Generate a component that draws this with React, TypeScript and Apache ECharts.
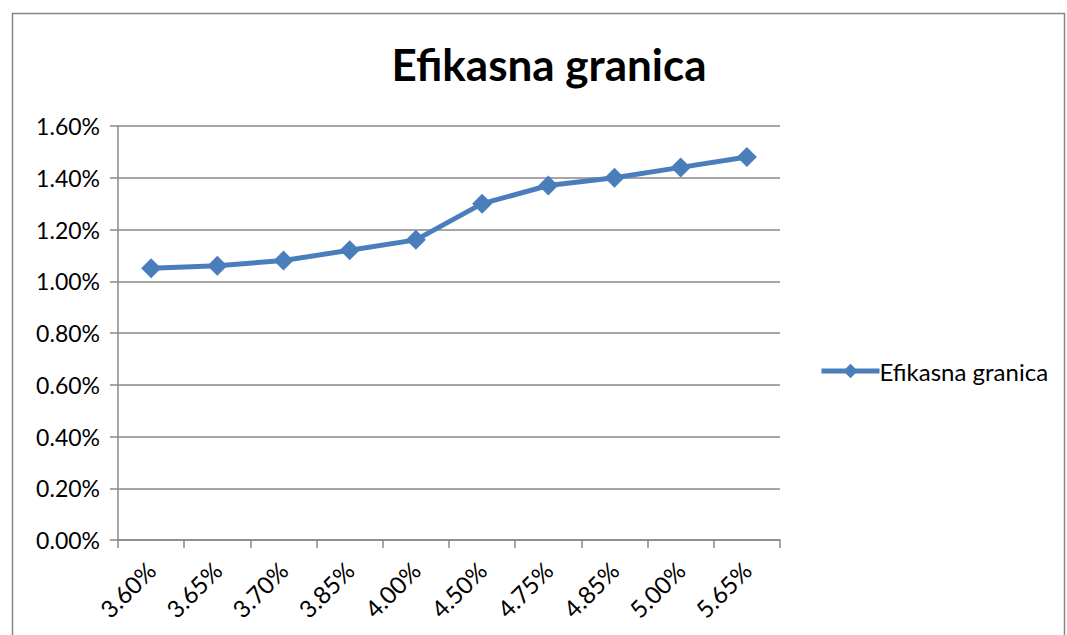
import React, { useEffect, useRef } from "react";
import * as echarts from "echarts";

const categories = ["3.60%", "3.65%", "3.70%", "3.85%", "4.00%", "4.50%", "4.75%", "4.85%", "5.00%", "5.65%"];
const values = [1.05, 1.06, 1.08, 1.12, 1.16, 1.30, 1.37, 1.40, 1.44, 1.48];
const seriesName = "Efikasna granica";
const titleText = "Efikasna granica";

export default function App() {
  const ref = useRef<HTMLDivElement>(null);
  useEffect(() => {
    if (!ref.current) return;
    const chart = echarts.init(ref.current, undefined, { renderer: "svg" });
    const gray = "#888888";
    chart.setOption({
      animation: false,
      backgroundColor: "#ffffff",
      textStyle: { fontFamily: "Lato" },
      title: {
        text: titleText,
        left: 544,
        top: 37,
        textAlign: "center",
        textStyle: { fontFamily: "Lato", fontWeight: "bold", fontSize: 44, color: "#000" },
      },
      graphic: [
        {
          type: "rect",
          shape: { x: 12.5, y: 13.5, width: 1052, height: 640 },
          style: { fill: "none", stroke: "#868686", lineWidth: 1.5 },
          silent: true,
        },
      ],
      legend: {
        left: 819,
        top: 359,
        padding: 0,
        itemWidth: 58,
        itemHeight: 18,
        itemGap: 2,
        lineStyle: { width: 5 },
        textStyle: { fontFamily: "Lato", fontSize: 24, color: "#000", padding: [0, 0, 0, -5] },
        data: [seriesName],
      },
      grid: { left: 118, right: 287, top: 126, bottom: 95 },
      xAxis: {
        type: "category",
        data: categories,
        boundaryGap: true,
        axisLine: { show: true, lineStyle: { color: gray, width: 1.5 } },
        axisTick: { show: true, length: 8, alignWithLabel: false, lineStyle: { color: gray, width: 1.5 } },
        axisLabel: { rotate: 45, fontSize: 24, color: "#000", fontFamily: "Lato", margin: 26 },
        splitLine: { show: false },
      },
      yAxis: {
        type: "value",
        min: 0,
        max: 1.6,
        interval: 0.2,
        axisLine: { show: true, lineStyle: { color: gray, width: 1.5 } },
        axisTick: { show: true, length: 8, lineStyle: { color: gray, width: 1.5 } },
        axisLabel: {
          fontSize: 23,
          color: "#000",
          fontFamily: "Lato",
          margin: 18,
          formatter: (v: number) => v.toFixed(2) + "%",
        },
        splitLine: { show: true, lineStyle: { color: gray, width: 1.5 } },
      },
      series: [
        {
          name: seriesName,
          type: "line",
          data: values,
          symbol: "diamond",
          symbolSize: 20,
          lineStyle: { color: "#4a7ebb", width: 5 },
          itemStyle: { color: "#4a7ebb" },
        },
      ],
    });
    return () => chart.dispose();
  }, []);
  return <div ref={ref} style={{ position: "fixed", left: 0, top: 0, width: 1067, height: 635 }} />;
}
